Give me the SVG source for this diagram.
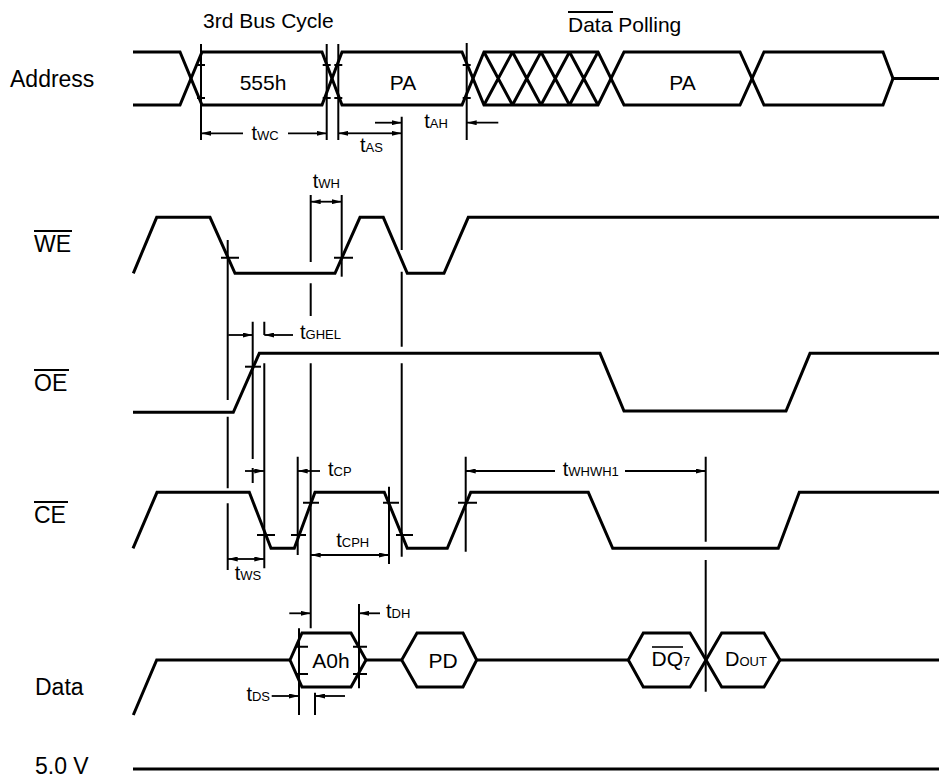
<svg xmlns="http://www.w3.org/2000/svg" width="939" height="778" viewBox="0 0 939 778">
<style>
text{font-family:"Liberation Sans",Arial,sans-serif;fill:#000}
.lbl{font-size:23px}
.big{font-size:21px}
.t{font-size:20px}
.sub{font-size:13px}
.sig{fill:none;stroke:#000;stroke-width:3;stroke-linejoin:miter}
.ref{fill:none;stroke:#000;stroke-width:2}
.tick{fill:none;stroke:#000;stroke-width:2}
.arr{fill:none;stroke:#000;stroke-width:1.8;marker-end:url(#ah)}
.ovl{stroke:#000;stroke-width:2}
</style>
<defs>
<marker id="ah" viewBox="0 0 10 5" refX="10" refY="2.5" markerWidth="10" markerHeight="5" markerUnits="userSpaceOnUse" orient="auto">
<path d="M0,0 L10,2.5 L0,5 Z" fill="#000"/>
</marker>
</defs>
<rect width="939" height="778" fill="#fff"/>

<g id="labels">
<text class="lbl" x="10" y="87">Address</text>
<text class="lbl" x="34" y="252">WE</text>
<line class="ovl" x1="34" y1="231" x2="72" y2="231"/>
<text class="lbl" x="34" y="391">OE</text>
<line class="ovl" x1="34" y1="370" x2="69" y2="370"/>
<text class="lbl" x="34" y="523">CE</text>
<line class="ovl" x1="34" y1="502" x2="68" y2="502"/>
<text class="lbl" x="35" y="695">Data</text>
<text class="lbl" x="35" y="774">5.0 V</text>
<text class="big" x="203" y="28">3rd Bus Cycle</text>
<text class="big" x="568" y="32">Data Polling</text>
<line class="ovl" x1="568" y1="12" x2="613" y2="12"/>
</g>

<g id="address">
<path class="sig" d="M133,52 H180 L202,105 H322 L342,52 H462 L484,105 H598 L624,52 H740 L764,105 H883 L893,78.5 H939"/>
<path class="sig" d="M133,105 H180 L202,52 H322 L342,105 H462 L484,52 H598 L624,105 H740 L764,52 H883 L893,78.5"/>
<path class="sig" d="M484,52 L512.5,105 M484,105 L512.5,52 M512.5,52 L541,105 M512.5,105 L541,52 M541,52 L569.5,105 M541,105 L569.5,52 M569.5,52 L598,105 M569.5,105 L598,52"/>
<text class="big" x="263" y="90" text-anchor="middle">555h</text>
<text class="big" x="403" y="89.5" text-anchor="middle">PA</text>
<text class="big" x="682.5" y="89.5" text-anchor="middle">PA</text>
</g>

<g id="we">
<path class="sig" d="M133.3,273.3 L156.7,217.3 H210 L235,273.3 H335 L360,217.3 H383.3 L407.3,273.3 H444 L468.3,217.3 H939"/>
</g>

<g id="oe">
<path class="sig" d="M133,412.3 H233.3 L259.3,353.3 H600 L624,411 H786 L810,353.3 H939"/>
</g>

<g id="ce">
<path class="sig" d="M133,548.3 L157,492.3 H249.3 L271,548.3 H294.3 L315,492.3 H384.3 L407.3,548.3 H447.3 L470.7,492.3 H588.3 L612.7,548.3 H778.3 L799.3,492.3 H939"/>
</g>

<g id="data">
<path class="sig" d="M133.3,715 L156.7,660 H290 M366,660 H401.7 M476.7,660 H628.3 M780,660 H939"/>
<path class="sig" d="M290,660 L302,633 H351 L366,660 L351,687 H302 Z"/>
<path class="sig" d="M401.7,660 L417,633 H463 L476.7,660 L463,687 H417 Z"/>
<path class="sig" d="M628.3,660 L643.3,633 H690 L706,660 L690,687 H643.3 Z"/>
<path class="sig" d="M706,660 L721.7,633 H764 L780,660 L764,687 H721.7 Z"/>
<text class="big" x="331" y="668" text-anchor="middle">A0h</text>
<text class="big" x="443" y="668" text-anchor="middle">PD</text>
<text x="651.5" y="666"><tspan class="big">DQ</tspan><tspan class="sub">7</tspan></text>
<line class="ovl" x1="652" y1="647" x2="683" y2="647" style="stroke-width:1.6"/>
<text x="725" y="666"><tspan class="t">D</tspan><tspan class="sub">OUT</tspan></text>
</g>

<g id="vcc">
<path class="sig" d="M133,769 H939"/>
</g>

<g id="connectors">
<path class="ref" d="M201,44 V140 M326.7,44 V140 M338.3,44 V140 M466.7,43 V140"/>
<path class="ref" d="M401.7,116.7 V250 M401.7,271.7 V346.7 M401.7,363.3 V556.7"/>
<path class="ref" d="M227.7,240 V400 M227.7,416.7 V488.3 M227.7,503.3 V570"/>
<path class="ref" d="M252.7,321.7 V459 M252.7,468 V483"/>
<path class="ref" d="M264.3,321.7 V335 M264.3,363.3 V568.3"/>
<path class="ref" d="M310.7,195 V262 M310.7,283.3 V316 M310.7,363.3 V628.3"/>
<path class="ref" d="M341.7,195 V276.7"/>
<path class="ref" d="M297.7,456.7 V555 M389,486.7 V564 M465.7,456.7 V551.7"/>
<path class="ref" d="M705.7,456.7 V541.7 M705.7,560 V691.7"/>
<path class="ref" d="M299,628.3 V715 M315,692.7 V715 M359,604 V688.3"/>
<path class="tick" d="M197,65 H205 M197,98 H205 M322.7,65 H330.7 M322.7,98 H330.7 M334.3,65 H342.3 M334.3,98 H342.3 M462.7,65 H470.7 M462.7,98 H470.7"/>
<path class="tick" d="M221,257.7 H239 M334,257.7 H353"/>
<path class="tick" d="M245,366.7 H261"/>
<path class="tick" d="M257,535 H275 M291,535 H306 M303,502.7 H319 M383,502.7 H399 M396,535 H413 M458,502.7 H477"/>
<path class="tick" d="M295,646.7 H308 M295,674 H308 M353,646.7 H367 M353,674 H367"/>
<line class="arr" x1="243" y1="133.3" x2="201" y2="133.3"/>
<line class="arr" x1="288" y1="133.3" x2="326.7" y2="133.3"/>
<line class="arr" x1="370" y1="133.3" x2="338.3" y2="133.3"/>
<line class="arr" x1="370" y1="133.3" x2="401.7" y2="133.3"/>
<line class="arr" x1="375" y1="122.7" x2="401.7" y2="122.7"/>
<line class="arr" x1="498.3" y1="122.7" x2="466.7" y2="122.7"/>
<line class="arr" x1="326" y1="201.7" x2="310.7" y2="201.7"/>
<line class="arr" x1="326" y1="201.7" x2="341.7" y2="201.7"/>
<line class="arr" x1="228.3" y1="335" x2="252.7" y2="335"/>
<line class="arr" x1="293" y1="335" x2="264.3" y2="335"/>
<line class="arr" x1="245" y1="471" x2="264.3" y2="471"/>
<line class="arr" x1="320" y1="471" x2="297.7" y2="471"/>
<line class="arr" x1="555" y1="471" x2="465.7" y2="471"/>
<line class="arr" x1="625" y1="471" x2="705.7" y2="471"/>
<line class="arr" x1="350" y1="555" x2="310.7" y2="555"/>
<line class="arr" x1="350" y1="555" x2="389" y2="555"/>
<line class="arr" x1="246" y1="559" x2="227.7" y2="559"/>
<line class="arr" x1="246" y1="559" x2="264.3" y2="559"/>
<line class="arr" x1="289.3" y1="613.3" x2="310.7" y2="613.3"/>
<line class="arr" x1="380" y1="613.3" x2="359" y2="613.3"/>
<line class="arr" x1="271.7" y1="696" x2="299" y2="696"/>
<line class="arr" x1="345" y1="696" x2="315" y2="696"/>
</g>

<g id="timing-labels">
<text x="265" y="140" text-anchor="middle"><tspan class="t">t</tspan><tspan class="sub">WC</tspan></text>
<text x="371.5" y="151.7" text-anchor="middle"><tspan class="t">t</tspan><tspan class="sub">AS</tspan></text>
<text x="436" y="128.3" text-anchor="middle"><tspan class="t">t</tspan><tspan class="sub">AH</tspan></text>
<text x="326.3" y="188.3" text-anchor="middle"><tspan class="t">t</tspan><tspan class="sub">WH</tspan></text>
<text x="300" y="339.3"><tspan class="t">t</tspan><tspan class="sub">GHEL</tspan></text>
<text x="328" y="476"><tspan class="t">t</tspan><tspan class="sub">CP</tspan></text>
<text x="590.8" y="476" text-anchor="middle"><tspan class="t">t</tspan><tspan class="sub">WHWH1</tspan></text>
<text x="352.7" y="546.7" text-anchor="middle"><tspan class="t">t</tspan><tspan class="sub">CPH</tspan></text>
<text x="248" y="580" text-anchor="middle"><tspan class="t">t</tspan><tspan class="sub">WS</tspan></text>
<text x="386" y="617.7"><tspan class="t">t</tspan><tspan class="sub">DH</tspan></text>
<text x="270" y="700.7" text-anchor="end"><tspan class="t">t</tspan><tspan class="sub">DS</tspan></text>
</g>
</svg>
